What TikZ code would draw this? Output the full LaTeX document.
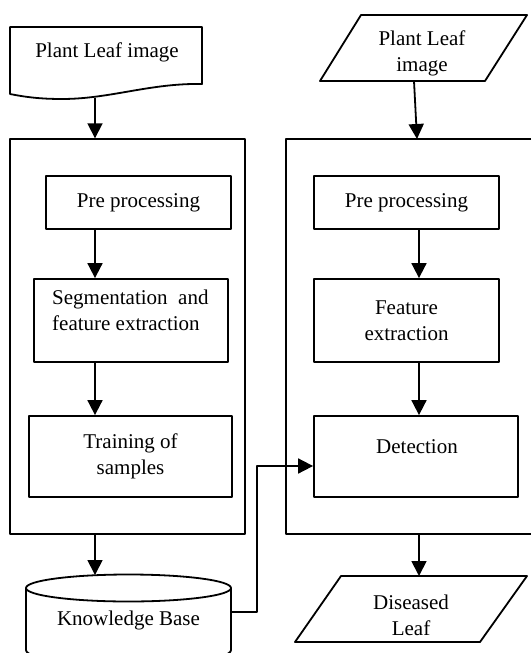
\documentclass[tikz,border=0pt]{standalone}
\usepackage{fontspec}
\setmainfont{Liberation Serif}
\usetikzlibrary{arrows.meta,calc}
\begin{document}
\begin{tikzpicture}[x=1pt,y=-1pt,
  line join=round,
  outline/.style={draw,line width=1.8pt},
  frame/.style={draw,line width=1.4pt},
  box/.style={outline,inner sep=0pt},
  txt/.style={font=\fontsize{21}{26}\selectfont,align=center,inner sep=0pt},
  arr/.style={line width=1.8pt,-{Triangle[length=15pt,width=15pt]}}]
\useasboundingbox (0,0) rectangle (531,653);

% ---------- training side ----------
\draw[outline] (10,27) -- (202,27) -- (202,84)
  .. controls (150,83) and (110,99) .. (62,99)
  .. controls (40,99) and (25,97) .. (10,94) -- cycle;
\node[txt] (doc) at (107,52) {Plant Leaf image};
\coordinate (docb) at (95,98);
\coordinate (lcol) at (95,0);

\node[frame,minimum width=235pt,minimum height=395pt] (lbig) at (127.5,336.5) {};
\node[box,minimum width=185pt,minimum height=53pt] (lpre) at (138.5,202.5) {};
\node[txt] at (lpre.center) {Pre processing};
\node[box,minimum width=194pt,minimum height=83pt] (lseg) at (131,320.5) {};
\node[txt,align=left,anchor=west] (lsegt) at (52,310) {Segmentation\ \ and\\feature extraction};
\node[box,minimum width=203pt,minimum height=81pt] (ltrain) at (130.5,456.5) {};
\node[txt] at (ltrain.center) {Training of\\samples};

% knowledge base cylinder
\draw[outline] (26,588) -- (26,650) .. controls (26,668) and (231,668) .. (231,650) -- (231,588);
\draw[outline,fill=white] (128.5,588) ellipse [x radius=102.5pt, y radius=13.5pt];
\node[txt] (kb) at (128.5,620) {Knowledge Base};
\coordinate (kbtop) at (95,575);
\coordinate (kbR) at (231,612);

% ---------- detection side ----------
\draw[outline] (361,15) -- (527,15) -- (485,81) -- (320,81) -- cycle;
\node[txt] (inimg) at (422,53) {Plant Leaf\\image};
\coordinate (inb) at (414,81);
\coordinate (rcol) at (419,0);

\draw[frame] (531,139) -- (286,139) -- (286,534) -- (531,534);
\coordinate (rbigN) at (417,139);
\coordinate (rbigS) at (419,534);
\node[box,minimum width=185pt,minimum height=53pt] (rpre) at (406.5,202.5) {};
\node[txt] at (rpre.center) {Pre processing};
\node[box,minimum width=185pt,minimum height=83pt] (rfeat) at (406.5,320.5) {};
\node[txt] at (rfeat.center) {Feature\\extraction};
\node[box,minimum width=204pt,minimum height=81pt] (rdet) at (416,456.5) {};
\node[txt] (rdett) at (417,447) {Detection};

\draw[outline] (341,576) -- (527,576) -- (480,642) -- (295,642) -- cycle;
\node[txt] (out) at (411,615) {Diseased\\Leaf};
\coordinate (outN) at (419,576);

% ---------- connectors ----------
\draw[arr] (docb) -- (lcol |- lbig.north);
\draw[arr] (lcol |- lpre.south) -- (lcol |- lseg.north);
\draw[arr] (lcol |- lseg.south) -- (lcol |- ltrain.north);
\draw[arr] (lcol |- lbig.south) -- (kbtop);

\draw[arr] (inb) -- (rbigN);
\draw[arr] (rcol |- rpre.south) -- (rcol |- rfeat.north);
\draw[arr] (rcol |- rfeat.south) -- (rcol |- rdet.north);
\draw[arr] (rbigS) -- (outN);

\draw[arr] (kbR) -- ++(26,0) |- ($(rdet.west)+(0,9.5)$);
\end{tikzpicture}
\end{document}
